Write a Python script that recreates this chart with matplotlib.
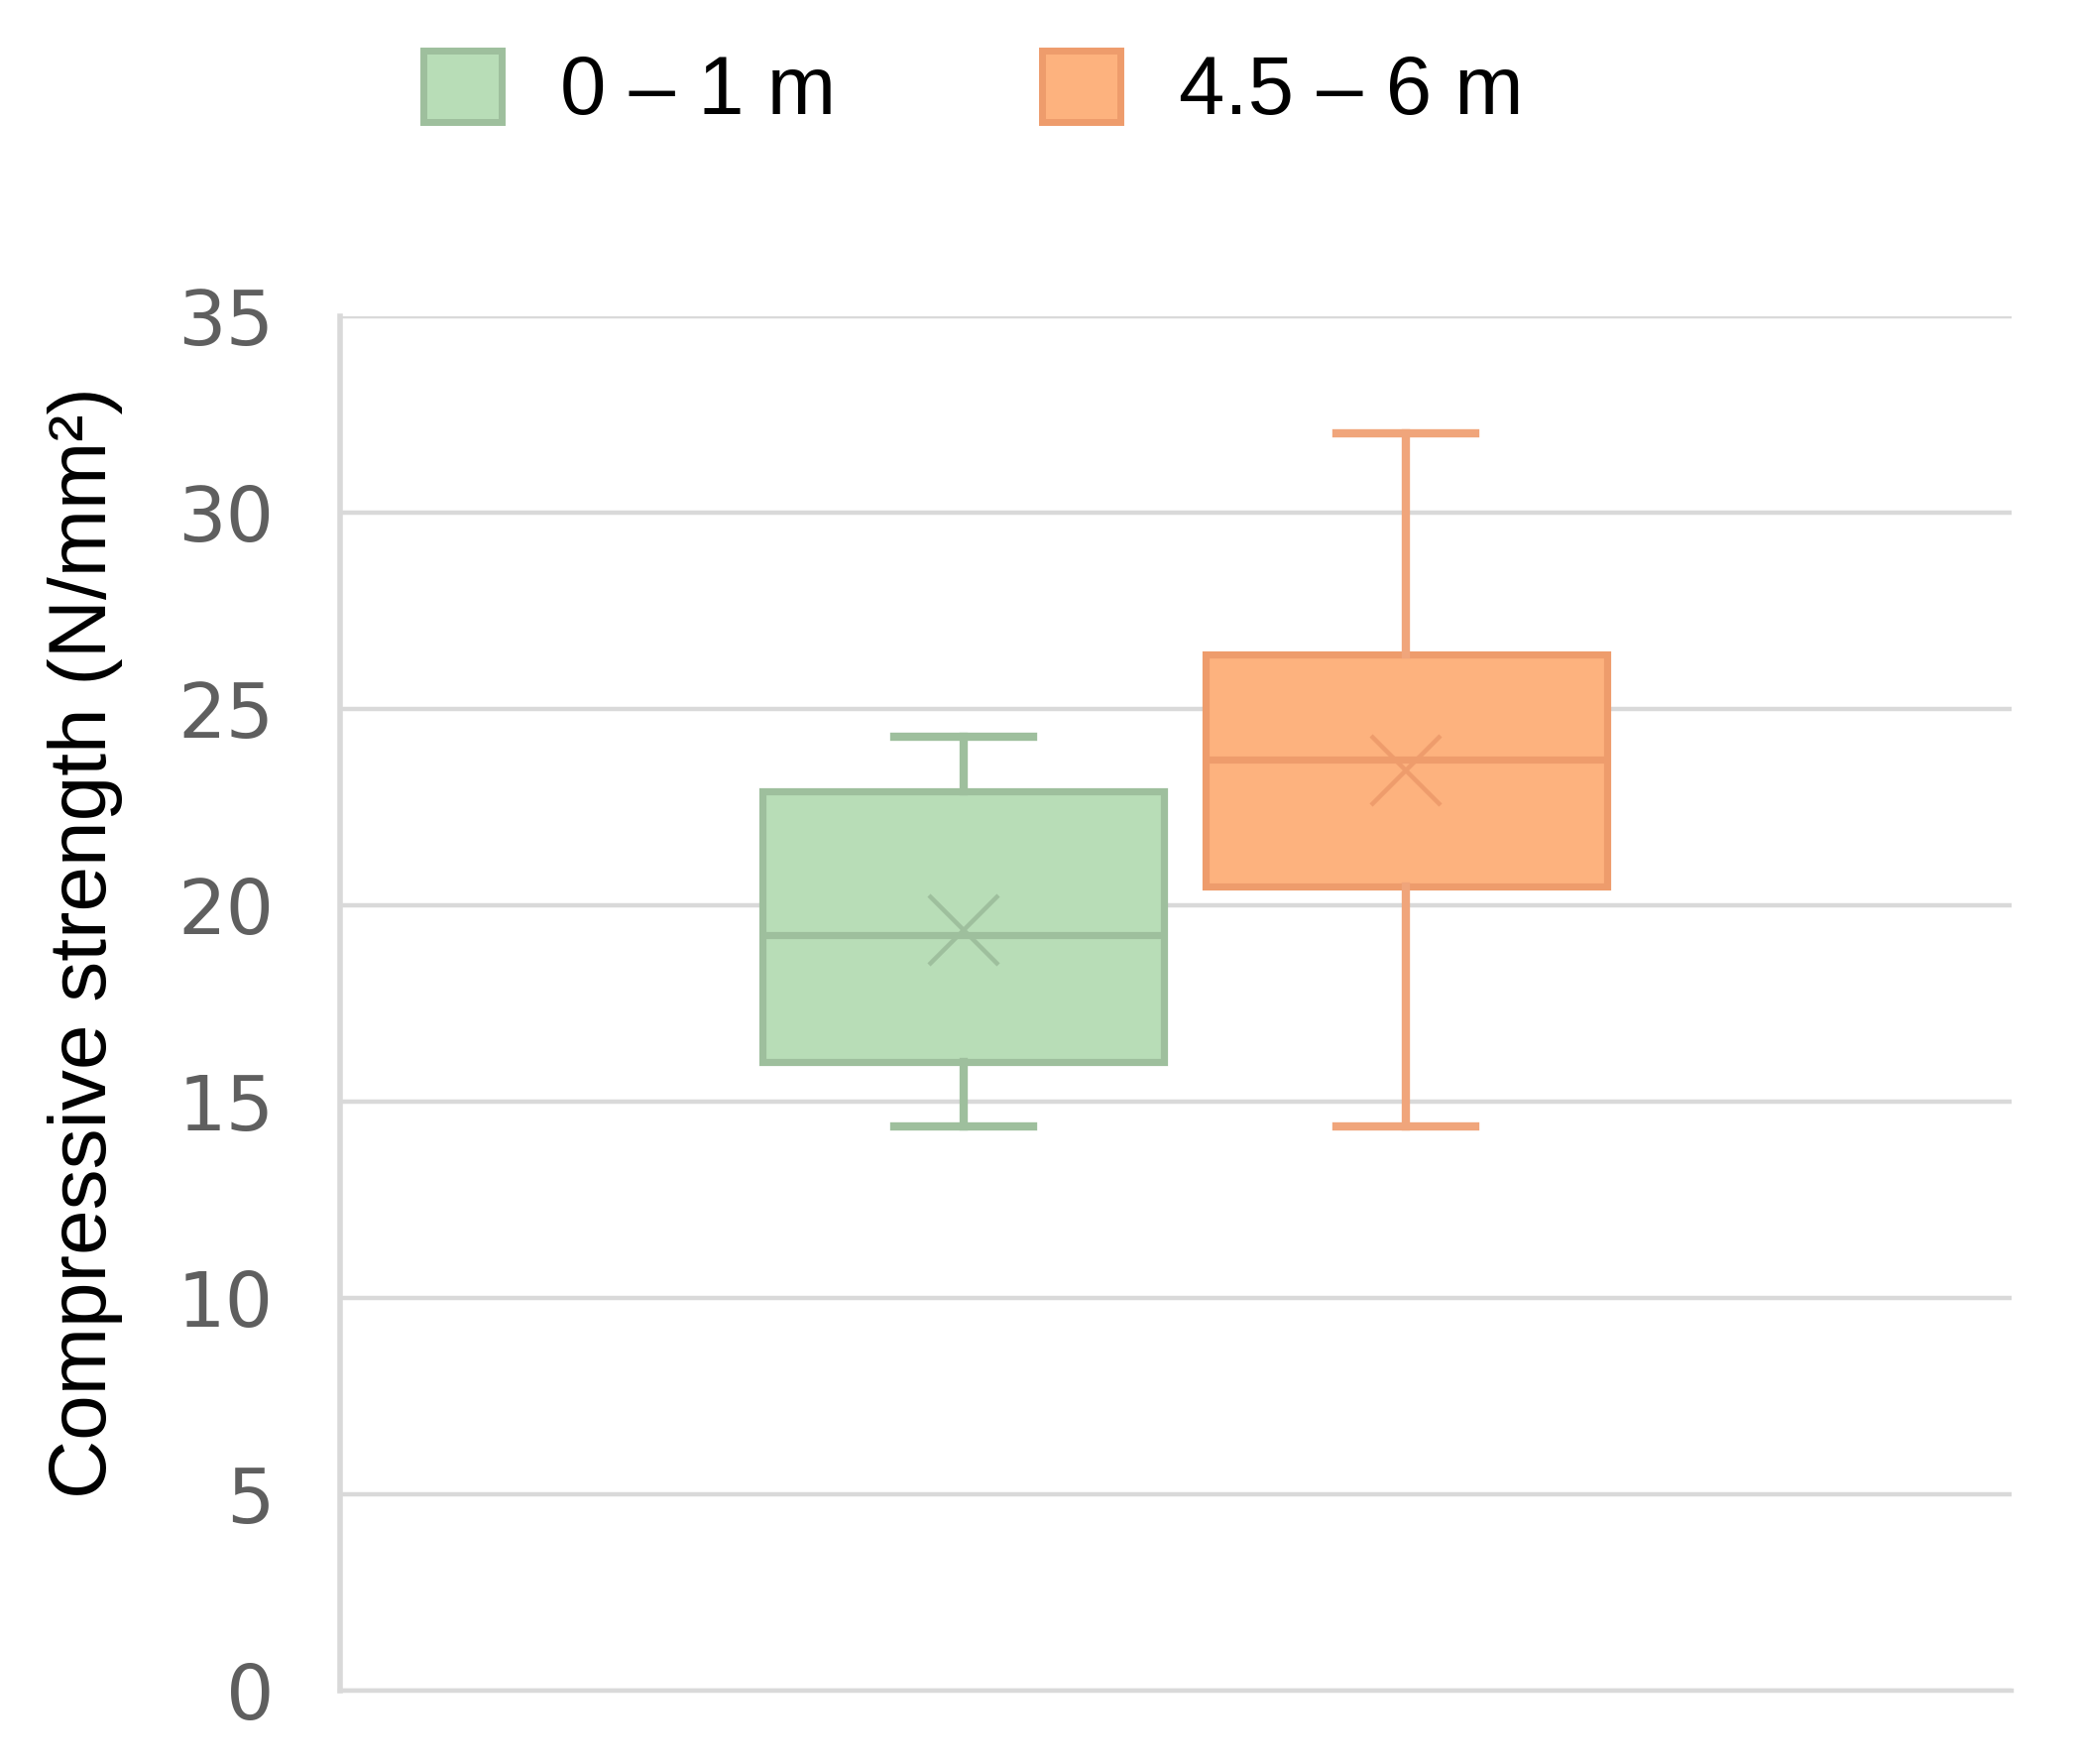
import matplotlib
matplotlib.use("Agg")
import matplotlib.pyplot as plt
from matplotlib.patches import Patch

# Data
series = ["0 – 1 m", "4.5 – 6 m"]
whisker_low = [14.38, 14.37]
q1 = [16.0, 20.48]
median = [19.24, 23.7]
q3 = [22.9, 26.38]
whisker_high = [24.28, 32.03]
mean = [19.37, 23.43]
yticks = [0, 5, 10, 15, 20, 25, 30, 35]

fills = ["#B8DDB7", "#FDB27E"]
edges = ["#9EBF9D", "#EE9C6C"]
whisker_colors = ["#9EBF9D", "#F0A57B"]
positions = [-0.127, 0.138]

W, H, DPI = 2100, 1779, 200
fig = plt.figure(figsize=(W / DPI, H / DPI), dpi=DPI)
ax = fig.add_axes([0.1633, 0.0416, 0.8027, 0.7791])

stats = []
for i in range(len(series)):
    stats.append(dict(whislo=whisker_low[i], q1=q1[i], med=median[i], q3=q3[i],
                      whishi=whisker_high[i], mean=mean[i], label=series[i]))

for i in range(len(series)):
    ax.bxp([stats[i]], positions=[positions[i]], widths=0.24, showmeans=True,
           showfliers=False, patch_artist=True,
           boxprops=dict(facecolor=fills[i], edgecolor=edges[i], linewidth=2.6),
           medianprops=dict(color=edges[i], linewidth=2.6),
           whiskerprops=dict(color=whisker_colors[i], linewidth=3.0),
           capprops=dict(color=whisker_colors[i], linewidth=3.0),
           capwidths=0.083,
           meanprops=dict(marker="x", markersize=25, markeredgecolor=edges[i],
                          markeredgewidth=1.6),
           zorder=3)

ax.set_xlim(-0.5, 0.5)
ax.set_ylim(0, 35)
ax.set_yticks(yticks)
ax.set_yticklabels([str(v) for v in yticks], fontsize=27.5, color="#5f5f5f",
                   family="DejaVu Sans")
ax.tick_params(axis="y", length=0, pad=24)
ax.set_xticks([])
ax.grid(axis="y", color="#D9D9D9", linewidth=1.6, zorder=0)
ax.set_axisbelow(True)
for s in ["top", "right"]:
    ax.spines[s].set_visible(False)
ax.spines["left"].set_color("#D9D9D9")
ax.spines["left"].set_linewidth(2.0)
ax.spines["bottom"].set_color("#D9D9D9")
ax.spines["bottom"].set_linewidth(1.6)

fig.text(0.041, 0.4655, "Compressive strength (N/mm²)", rotation=90,
         ha="center", va="center", fontsize=29.5, family="Liberation Sans",
         color="black")

handles = [Patch(facecolor=fills[i], edgecolor=edges[i], linewidth=2.5)
           for i in range(len(series))]
fig.legend(handles, series, loc="center", bbox_to_anchor=(0.4675, 0.9485),
           ncol=2, frameon=False, prop=dict(family="Liberation Sans", size=30),
           handlelength=0.95, handleheight=0.95, handletextpad=0.7,
           columnspacing=2.5)

fig.savefig("out.png", dpi=DPI)
